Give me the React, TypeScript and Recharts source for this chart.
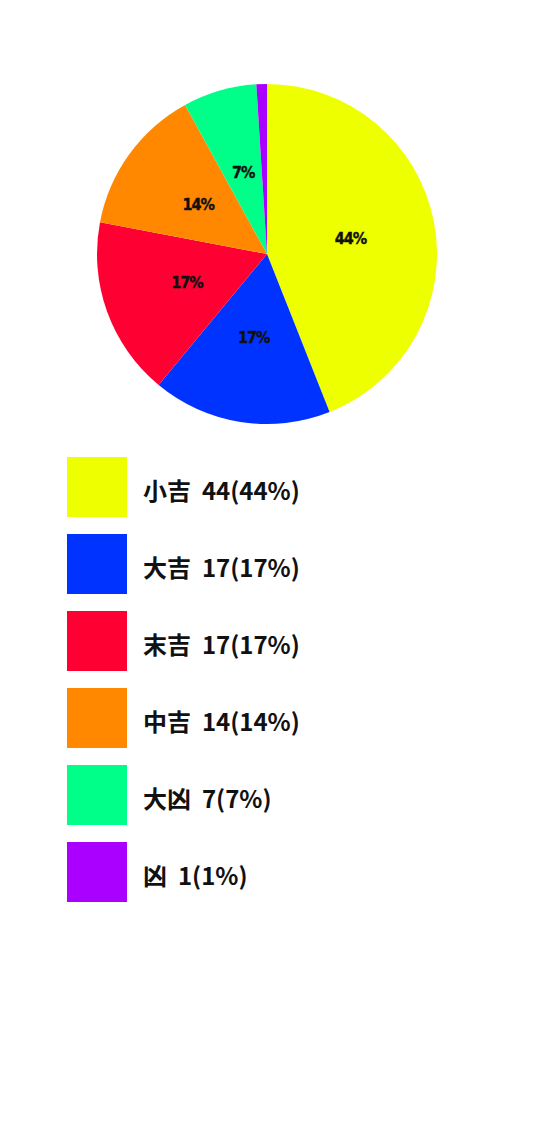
import { PieChart, Pie, Cell, Legend } from 'recharts'

const names = ['小吉', '大吉', '末吉', '中吉', '大凶', '凶']
const counts = [44, 17, 17, 14, 7, 1]
const colors = ['#EEFF00', '#0033FF', '#FF0033', '#FF8800', '#00FF88', '#AA00FF']

const total = counts.reduce((a, b) => a + b, 0)
const data = names.map((name, i) => ({ name, value: counts[i] }))

const RAD = Math.PI / 180

const renderLabel = (props: any) => {
  const { cx, cy, midAngle, outerRadius, percent } = props
  if (percent < 0.02) return null
  const r = outerRadius * 0.5
  const x = cx + r * Math.cos(-midAngle * RAD)
  const y = cy + r * Math.sin(-midAngle * RAD)
  return (
    <text
      x={x}
      y={y}
      fill="#111"
      stroke="#111"
      strokeWidth={0.4}
      textAnchor="middle"
      dominantBaseline="central"
      fontFamily="'DejaVu Sans Condensed', 'DejaVu Sans', sans-serif"
      fontWeight="bold"
      fontSize={16}
      letterSpacing={-1}
    >
      {`${Math.round(percent * 100)}%`}
    </text>
  )
}

const LegendList = () => (
  <div>
    {data.map((d, i) => (
      <div
        key={d.name}
        style={{ display: 'flex', alignItems: 'center', height: 60, marginBottom: 17 }}
      >
        <div style={{ width: 60, height: 60, background: colors[i] }} />
        <span
          style={{
            marginLeft: 16,
            marginTop: 4,
            fontFamily: "'Noto Sans CJK JP', 'Noto Sans', sans-serif",
            fontWeight: 700,
            fontSize: 24,
            color: '#111',
            whiteSpace: 'pre',
          }}
        >
          {`${d.name}  ${d.value}(${Math.round((d.value / total) * 100)}%)`}
        </span>
      </div>
    ))}
  </div>
)

export default function App() {
  return (
    <PieChart width={518} height={1100} margin={{ top: 0, right: 0, bottom: 0, left: 0 }}>
      <Pie
        data={data}
        dataKey="value"
        nameKey="name"
        cx={259}
        cy={246}
        outerRadius={170}
        startAngle={90}
        endAngle={-270}
        stroke="none"
        label={renderLabel}
        labelLine={false}
        isAnimationActive={false}
      >
        {data.map((d, i) => (
          <Cell key={d.name} fill={colors[i]} />
        ))}
      </Pie>
      <Legend
        layout="horizontal"
        verticalAlign="bottom"
        align="left"
        wrapperStyle={{ top: 449, left: 59, bottom: 'auto', width: 400 }}
        content={() => <LegendList />}
      />
    </PieChart>
  )
}
